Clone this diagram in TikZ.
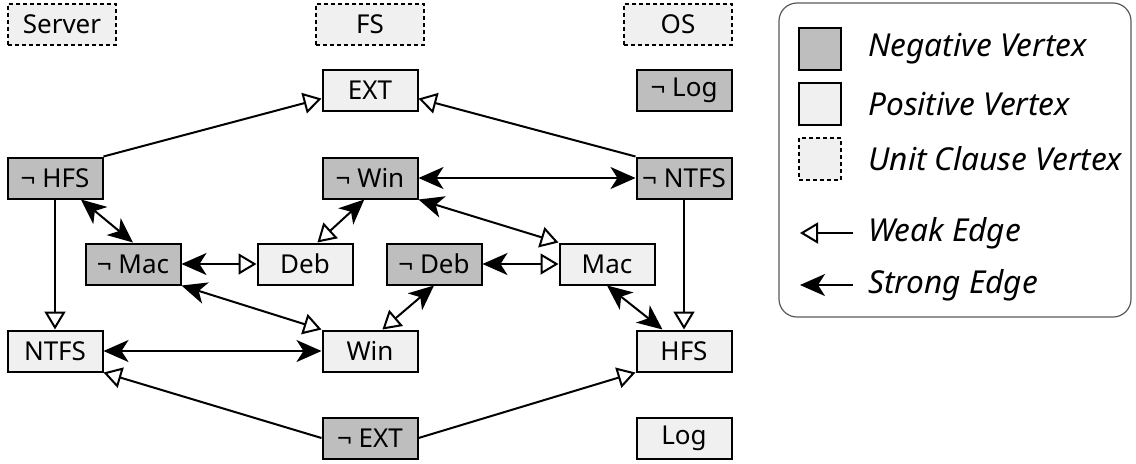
\documentclass[tikz,border=0pt]{standalone}
\usepackage{fontspec}
\setmainfont{Noto Sans}
\usetikzlibrary{positioning, arrows.meta, shapes}

\definecolor{negfill}{RGB}{190,190,190}
\definecolor{posfill}{RGB}{240,240,240}

\begin{document}
\begin{tikzpicture}[
        x=0.5pt, y=-0.5pt,
        font=\fontsize{13}{15}\selectfont,
        vertex/.style={draw, line width=1pt, minimum width=47.5pt, minimum height=20.5pt, inner sep=0pt},
        negvertex/.style={vertex, fill=negfill},
        posvertex/.style={vertex, fill=posfill},
        unitvertex/.style={vertex, dash pattern=on 2pt off 1.5pt, fill=posfill, minimum width=54pt},
        keybox/.style={draw, line width=1pt, minimum size=21pt, inner sep=0pt},
        keytext/.style={anchor=west, inner sep=0pt, font=\fontsize{15.8}{18}\selectfont\itshape},
        edge/.style={draw, line width=1pt},
        weak/.style={edge, -{Triangle[open, length=9pt, width=10.5pt, fill=white]}},
        strong/.style={edge, -{Stealth[length=12.5pt, width=11pt, inset=3.5pt]}},
        strongweak/.style={edge, {Stealth[length=12.5pt, width=11pt, inset=3.5pt]}-{Triangle[open, length=9pt, width=10.5pt, fill=white]}},
        strongstrong/.style={edge, {Stealth[length=12.5pt, width=11pt, inset=3.5pt]}-{Stealth[length=12.5pt, width=11pt, inset=3.5pt]}}
    ]
    \useasboundingbox (0,0) rectangle (1136,463);

    % Unit-Klauseln
    \node (server) [unitvertex] at (62,24) {Server};
    \node (fs) [unitvertex] at (370,24) {FS};
    \node (os) [unitvertex] at (678,24) {OS};

    % Knoten
    \node (ext) [posvertex] at (370,90) {EXT};
    \node (nlog) [negvertex] at (684,90) {¬ Log};
    \node (nhfs) [negvertex] at (55,178) {¬ HFS};
    \node (nwin) [negvertex] at (370,178) {¬ Win};
    \node (nntfs) [negvertex] at (684,178) {¬ NTFS};
    \node (nmac) [negvertex] at (133,264) {¬ Mac};
    \node (deb) [posvertex] at (305,264) {Deb};
    \node (ndeb) [negvertex] at (434,264) {¬ Deb};
    \node (mac) [posvertex] at (607,264) {Mac};
    \node (ntfs) [posvertex] at (55,351) {NTFS};
    \node (win) [posvertex] at (370,351) {Win};
    \node (hfs) [posvertex] at (684,351) {HFS};
    \node (next) [negvertex] at (370,438) {¬ EXT};
    \node (log) [posvertex] at (684,438) {Log};

    % Kanten
    \draw[weak] (nhfs.north east) -- (ext.190);
    \draw[weak] (nntfs.north west) -- (ext.-10);
    \draw[strongstrong] (nwin) -- (nntfs);
    \draw[strongstrong] (nhfs) -- (nmac.north);
    \draw[weak] (nhfs) -- (ntfs);
    \draw[strongweak] (nwin.255) -- (deb.60);
    \draw[strongweak] (nwin.south east) -- (mac.north west);
    \draw[strongweak] (nmac) -- (deb);
    \draw[strongweak] (ndeb) -- (mac);
    \draw[strongweak] (nmac.south east) -- (win.north west);
    \draw[strongweak] (ndeb.south) -- (win.60);
    \draw[strongstrong] (ntfs) -- (win);
    \draw[strongstrong] (mac.south) -- (hfs.135);
    \draw[weak] (nntfs) -- (hfs);
    \draw[weak] (next.west) -- (ntfs.south east);
    \draw[weak] (next.east) -- (hfs.south west);

    % Legende
    \draw[rounded corners=9pt, line width=0.6pt, black!65] (779,3) rectangle (1131,317);
    \node (keyneg) [keybox, fill=negfill] at (820,49) {};
    \node (keypos) [keybox, fill=posfill] at (820,104) {};
    \node (keyunit) [keybox, dash pattern=on 2pt off 1.5pt, fill=posfill] at (820,159) {};
    \node [keytext] at (868,49) {Negative Vertex};
    \node [keytext] at (868,104) {Positive Vertex};
    \node [keytext] at (868,159) {Unit Clause Vertex};
    \coordinate (weakfrom) at (853,233);
    \coordinate (weakto) at (800,233);
    \coordinate (strongfrom) at (853,285);
    \coordinate (strongto) at (800,285);
    \draw[weak] (weakfrom) -- (weakto);
    \draw[strong] (strongfrom) -- (strongto);
    \node [keytext] at (868,233) {Weak Edge};
    \node [keytext] at (868,285) {Strong Edge};

\end{tikzpicture}
\end{document}
